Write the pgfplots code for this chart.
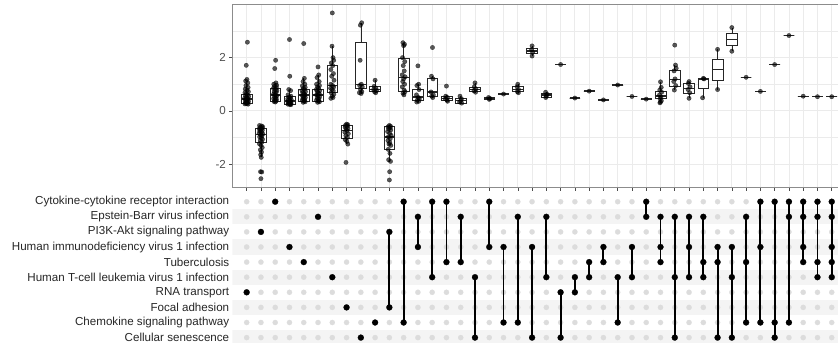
\documentclass[border=0pt]{standalone}
\usepackage{fontspec}
\setmainfont{Liberation Sans}
\usepackage{pgfplots}
\usepackage{pgfplotstable}
\pgfplotsset{compat=1.18}
\usepgfplotslibrary{statistics}
\definecolor{gridc}{HTML}{EBEBEB}
\definecolor{framec}{HTML}{8C8C8C}
\definecolor{dotgray}{HTML}{DCDCDC}
\definecolor{stripe}{HTML}{F4F4F4}
\definecolor{tickc}{HTML}{4D4D4D}
\newcommand{\bx}[6]{\addplot[draw=black!85, fill=white, line width=0.6pt, boxplot prepared={draw direction=y, draw position=#1, lower whisker=#2, lower quartile=#3, median=#4, upper quartile=#5, upper whisker=#6, box extend=0.75, whisker extend=0}] coordinates {};}
\newcommand{\sv}[2]{\bx{#1}{#2}{#2}{#2}{#2}{#2}}
\newcommand{\seg}[3]{\addplot[black, line width=1.9pt] coordinates {(#1,#2) (#1,#3)};}
\newcommand{\lbl}{\fontsize{11.6}{13}\selectfont}

\pgfplotstableread{
set n
1 1
2 1
3 1
4 1
5 1
6 1
7 1
8 1
9 1
10 1
11 2
12 2
13 2
14 2
15 2
16 2
17 2
18 2
19 2
20 2
21 2
22 2
23 2
24 2
25 2
26 2
27 2
28 2
29 2
30 3
31 3
32 3
33 3
34 3
35 3
36 3
37 3
38 3
39 3
40 4
41 4
42 5
}\cols

\pgfplotstableread{
set row
1 7
2 3
3 1
4 4
5 5
6 2
7 6
8 8
9 10
10 9
11 3
11 8
12 1
12 9
13 2
13 4
14 1
14 6
15 1
15 5
16 2
16 5
17 6
17 10
18 1
18 4
19 4
19 9
20 2
20 9
21 4
21 10
22 2
22 6
23 7
23 10
24 6
24 7
25 5
25 6
26 4
26 5
27 6
27 9
28 4
28 6
29 1
29 2
30 2
30 4
30 5
31 2
31 6
31 10
32 2
32 4
32 6
33 2
33 5
33 6
34 4
34 5
34 10
35 4
35 6
35 10
36 2
36 5
36 9
37 1
37 4
37 9
38 1
38 9
38 10
39 1
39 2
39 9
40 1
40 2
40 4
40 5
41 1
41 2
41 5
41 6
42 1
42 2
42 4
42 5
42 6
}\memb

\pgfplotstableread{
x y
1.05 2.58
0.97 1.71
1.02 1.18
0.93 1.12
1.08 1.05
0.95 0.95
1.10 0.88
0.90 0.82
1.03 0.78
1.12 0.72
0.88 0.68
0.98 0.64
1.06 0.60
0.92 0.57
1.14 0.54
1.00 0.50
0.87 0.48
1.09 0.45
0.95 0.42
1.04 0.40
0.90 0.37
1.13 0.35
0.99 0.33
1.07 0.31
0.93 0.29
1.02 0.27
0.88 0.26
1.10 0.25
1.90 -0.55
2.05 -0.57
2.12 -0.60
1.95 -0.62
2.08 -0.65
1.88 -0.68
2.00 -0.70
2.10 -0.73
1.93 -0.76
2.04 -0.80
1.87 -0.84
2.13 -0.87
1.98 -0.90
2.07 -0.94
1.91 -0.98
2.02 -1.02
2.11 -1.07
1.95 -1.12
2.06 -1.18
1.89 -1.24
2.00 -1.30
2.09 -1.38
1.96 -1.47
2.04 -1.55
1.98 -1.65
2.02 -1.75
1.97 -2.29
2.06 -2.30
2.00 -2.55
3.03 1.90
2.97 1.59
3.05 1.05
2.90 1.00
3.10 0.96
2.95 0.92
3.08 0.88
2.88 0.85
3.02 0.80
3.12 0.76
2.93 0.72
3.06 0.68
2.90 0.64
3.00 0.60
3.11 0.56
2.96 0.52
3.04 0.49
2.89 0.46
3.09 0.43
2.98 0.40
3.06 0.37
2.92 0.35
3.01 0.33
4.00 2.68
4.02 1.30
3.95 0.80
4.08 0.76
3.90 0.60
4.10 0.55
3.97 0.52
4.05 0.48
3.88 0.45
4.12 0.42
3.93 0.40
4.03 0.37
4.09 0.35
3.90 0.33
4.00 0.31
4.11 0.29
3.95 0.28
4.06 0.26
3.89 0.25
4.02 0.24
4.10 0.23
5.00 2.53
5.04 1.22
4.95 1.10
5.08 1.00
4.90 0.94
5.10 0.88
4.97 0.84
5.05 0.80
4.88 0.76
5.12 0.72
4.93 0.68
5.02 0.64
5.09 0.60
4.90 0.57
5.00 0.53
5.11 0.50
4.95 0.47
5.06 0.43
4.89 0.40
5.03 0.37
5.10 0.34
4.96 0.32
6.00 1.65
6.05 1.35
5.93 1.25
6.08 1.10
5.90 1.00
6.10 0.95
5.96 0.90
6.04 0.85
5.88 0.80
6.12 0.76
5.94 0.72
6.02 0.68
6.09 0.64
5.90 0.60
6.00 0.56
6.11 0.52
5.95 0.48
6.06 0.44
5.89 0.40
6.03 0.37
6.10 0.34
5.97 0.32
7.00 3.68
6.98 2.43
7.05 2.00
7.10 1.90
6.93 1.80
7.03 1.70
6.90 1.55
7.08 1.40
6.96 1.30
7.12 1.15
6.90 1.00
7.02 0.95
7.10 0.90
6.88 0.85
6.97 0.80
7.07 0.75
6.92 0.68
7.11 0.62
6.99 0.55
7.05 0.50
6.90 0.47
8.00 -0.50
8.08 -0.52
7.92 -0.55
8.05 -0.58
7.90 -0.62
8.10 -0.66
7.97 -0.70
8.03 -0.75
7.88 -0.80
8.12 -0.86
7.95 -0.93
8.06 -1.00
7.90 -1.08
8.02 -1.15
8.09 -1.25
7.96 -1.94
9.06 3.31
8.97 3.22
8.95 1.90
9.03 1.00
8.92 0.95
9.10 0.90
8.98 0.80
9.07 0.72
8.90 0.68
9.02 0.65
10.00 1.15
9.93 0.92
10.06 0.85
9.90 0.80
10.10 0.76
9.96 0.72
10.04 0.68
11.00 -0.55
11.08 -0.58
10.90 -0.60
11.05 -0.64
10.95 -0.68
11.10 -0.72
10.88 -0.78
11.02 -0.85
11.12 -0.92
10.93 -0.98
11.06 -1.05
10.90 -1.12
11.03 -1.20
10.97 -1.25
11.10 -1.30
10.92 -1.45
11.04 -1.60
10.95 -1.84
11.08 -1.90
11.02 -2.29
11.00 -2.60
11.95 2.56
12.06 2.50
12.00 2.45
11.92 2.00
12.08 1.85
11.97 1.70
12.04 1.50
11.90 1.35
12.10 1.28
12.00 1.20
11.94 1.10
12.07 1.00
11.90 0.90
12.03 0.78
12.10 0.72
11.96 0.66
12.02 0.60
13.00 1.69
13.05 1.00
12.93 0.95
13.08 0.80
12.90 0.60
13.03 0.50
13.10 0.45
12.95 0.40
13.06 0.36
12.92 0.33
14.02 2.38
13.95 1.30
14.06 1.20
13.92 0.71
14.08 0.60
13.97 0.55
14.04 0.50
15.00 0.93
14.95 0.55
15.06 0.50
14.92 0.45
15.04 0.40
15.08 0.36
15.95 0.55
16.05 0.45
16.00 0.38
15.92 0.33
16.07 0.29
17.00 1.05
16.95 0.90
17.06 0.82
16.93 0.75
17.04 0.70
17.95 0.50
18.05 0.46
18.00 0.43
19.00 0.63
20.00 1.00
19.95 0.90
20.05 0.80
19.97 0.72
20.04 0.68
21.00 2.44
20.97 2.30
21.04 2.20
21.00 2.06
21.95 0.70
22.05 0.62
22.00 0.55
21.96 0.50
23.00 1.74
24.00 0.48
25.00 0.74
26.00 0.41
27.00 0.97
28.00 0.54
29.00 0.44
30.00 1.09
30.05 0.88
29.95 0.78
30.08 0.70
29.93 0.60
30.03 0.52
29.97 0.45
30.06 0.38
30.00 0.33
29.96 0.30
31.00 2.47
31.05 1.72
31.10 1.60
30.95 1.50
31.02 1.20
30.93 1.10
31.07 0.95
30.97 0.78
32.00 1.10
31.95 1.03
32.07 0.90
31.93 0.80
32.05 0.68
32.00 0.47
33.00 1.22
33.05 1.20
32.95 0.49
34.00 2.31
34.00 0.80
35.00 3.13
35.00 2.24
36.00 1.26
37.00 0.73
38.00 1.74
39.00 2.83
40.00 0.55
41.00 0.53
42.00 0.53
}\pts

\begin{document}
\begin{tikzpicture}[font=\lbl]
\begin{axis}[
  at={(232.4pt,155.3pt)}, anchor=south west,
  x=14.27pt, y=26.6pt,
  xmin=0, xmax=42.5, ymin=-2.89, ymax=4.0,
  axis line style={framec, line width=0.6pt},
  xtick={1,...,42}, xticklabels={},
  ytick={-2,0,2}, minor ytick={-1,1,3},
  tick pos=left, tick align=outside,
  major tick length=3pt, minor tick length=0pt,
  tick style={tickc, line width=0.6pt},
  grid=both,
  major grid style={gridc, line width=0.8pt},
  minor grid style={gridc, line width=0.4pt},
  ticklabel style={font=\lbl, text=tickc},
  /pgf/number format/assume math mode=true,
  boxplot/draw direction=y,
  boxplot/every median/.style={line width=1.3pt},
]
\bx{1}{0.25}{0.30}{0.45}{0.62}{1.05}
\bx{2}{-1.75}{-1.2}{-0.9}{-0.65}{-0.55}
\bx{3}{0.32}{0.36}{0.59}{0.84}{1.05}
\bx{4}{0.22}{0.26}{0.37}{0.53}{0.8}
\bx{5}{0.32}{0.36}{0.6}{0.8}{1.22}
\bx{6}{0.32}{0.36}{0.59}{0.8}{1.35}
\bx{7}{0.47}{0.71}{0.95}{1.72}{2.43}
\bx{8}{-1.25}{-1.04}{-0.73}{-0.54}{-0.5}
\bx{9}{0.65}{0.84}{1.0}{2.56}{3.31}
\bx{10}{0.68}{0.72}{0.79}{0.93}{1.15}
\bx{11}{-1.92}{-1.44}{-0.98}{-0.6}{-0.55}
\bx{12}{0.6}{0.75}{1.26}{1.97}{2.56}
\bx{13}{0.32}{0.38}{0.52}{0.8}{1.0}
\bx{14}{0.5}{0.56}{0.71}{1.22}{1.3}
\bx{15}{0.35}{0.38}{0.46}{0.55}{0.6}
\bx{16}{0.28}{0.3}{0.38}{0.47}{0.55}
\bx{17}{0.68}{0.72}{0.8}{0.9}{1.05}
\bx{18}{0.42}{0.43}{0.46}{0.5}{0.52}
\sv{19}{0.63}
\bx{20}{0.68}{0.72}{0.81}{0.93}{1.0}
\bx{21}{2.06}{2.16}{2.25}{2.35}{2.44}
\bx{22}{0.48}{0.52}{0.59}{0.66}{0.7}
\sv{23}{1.74}
\sv{24}{0.48}
\sv{25}{0.74}
\sv{26}{0.41}
\sv{27}{0.97}
\sv{28}{0.54}
\sv{29}{0.44}
\bx{30}{0.3}{0.47}{0.56}{0.75}{1.09}
\bx{31}{0.78}{0.93}{1.18}{1.53}{1.72}
\bx{32}{0.47}{0.65}{0.84}{1.03}{1.1}
\bx{33}{0.49}{0.84}{1.2}{1.22}{1.22}
\bx{34}{0.8}{1.15}{1.56}{1.93}{2.31}
\bx{35}{2.24}{2.47}{2.68}{2.91}{3.13}
\sv{36}{1.26}
\sv{37}{0.73}
\sv{38}{1.74}
\sv{39}{2.83}
\sv{40}{0.55}
\sv{41}{0.53}
\sv{42}{0.53}
\addplot[only marks, color=black, mark=*, mark size=2.2pt, mark options={draw=black, fill=black, opacity=0.65, line width=0.3pt}] table[x=x, y=y] \pts;
\end{axis}

\begin{axis}[
  at={(232.4pt,148.85pt)}, anchor=north west,
  x=14.27pt, y=15.1pt, y dir=reverse,
  xmin=0, xmax=42.5, ymin=0.5, ymax=10.35,
  clip marker paths=true,
  axis line style={draw=none},
  xtick=\empty,
  ytick={1,...,10},
  yticklabels={Cytokine-cytokine receptor interaction, Epstein-Barr virus infection, PI3K-Akt signaling pathway, Human immunodeficiency virus 1 infection, Tuberculosis, Human T-cell leukemia virus 1 infection, RNA transport, Focal adhesion, Chemokine signaling pathway, Cellular senescence},
  major tick length=0pt,
  yticklabel style={font=\lbl, text=black!85, anchor=east, inner sep=0pt, xshift=-3pt},
]
\addplot[fill=stripe, draw=none] coordinates {(0,1.5) (42.5,1.5) (42.5,2.5) (0,2.5)};
\addplot[fill=stripe, draw=none] coordinates {(0,3.5) (42.5,3.5) (42.5,4.5) (0,4.5)};
\addplot[fill=stripe, draw=none] coordinates {(0,5.5) (42.5,5.5) (42.5,6.5) (0,6.5)};
\addplot[fill=stripe, draw=none] coordinates {(0,7.5) (42.5,7.5) (42.5,8.5) (0,8.5)};
\addplot[fill=stripe, draw=none] coordinates {(0,9.5) (42.5,9.5) (42.5,10.5) (0,10.5)};
\pgfplotsinvokeforeach{1,...,10}{
  \addplot[only marks, color=dotgray, mark=*, mark size=2.6pt, mark options={draw=dotgray, fill=dotgray, line width=0.2pt}] table[x=set, y expr=#1] \cols;
}
\seg{11}{3}{8}
\seg{12}{1}{9}
\seg{13}{2}{4}
\seg{14}{1}{6}
\seg{15}{1}{5}
\seg{16}{2}{5}
\seg{17}{6}{10}
\seg{18}{1}{4}
\seg{19}{4}{9}
\seg{20}{2}{9}
\seg{21}{4}{10}
\seg{22}{2}{6}
\seg{23}{7}{10}
\seg{24}{6}{7}
\seg{25}{5}{6}
\seg{26}{4}{5}
\seg{27}{6}{9}
\seg{28}{4}{6}
\seg{29}{1}{2}
\seg{30}{2}{5}
\seg{31}{2}{10}
\seg{32}{2}{6}
\seg{33}{2}{6}
\seg{34}{4}{10}
\seg{35}{4}{10}
\seg{36}{2}{9}
\seg{37}{1}{9}
\seg{38}{1}{10}
\seg{39}{1}{9}
\seg{40}{1}{5}
\seg{41}{1}{6}
\seg{42}{1}{6}
\addplot[only marks, color=black, mark=*, mark size=3.0pt, mark options={draw=black, fill=black, line width=0.2pt}] table[x=set, y=row] \memb;
\end{axis}
\pgfresetboundingbox
\useasboundingbox (0,0) rectangle (838pt,343pt);
\end{tikzpicture}
\end{document}
